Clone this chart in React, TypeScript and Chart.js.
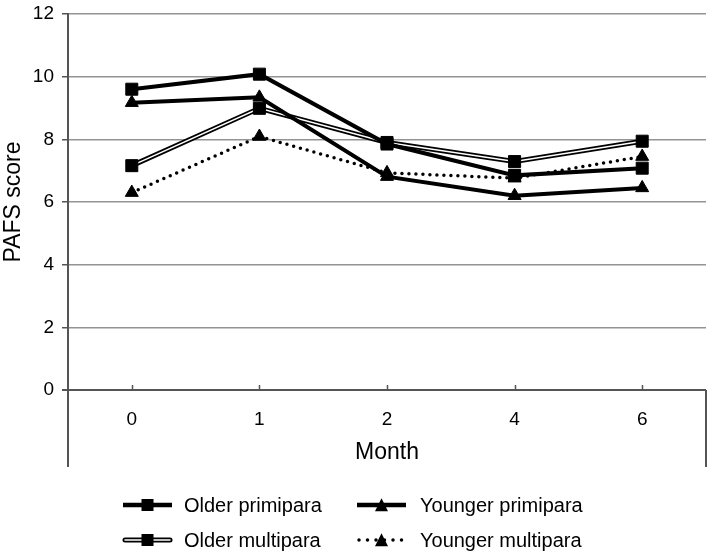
import React, { useEffect, useRef } from "react";
import { Chart, registerables } from "chart.js";

Chart.register(...registerables);

const months = ["0", "1", "2", "4", "6"];
const olderPrimipara = [9.6, 10.08, 7.85, 6.85, 7.08];
const olderMultipara = [7.16, 8.99, 7.9, 7.29, 7.94];
const youngerPrimipara = [9.17, 9.34, 6.81, 6.2, 6.45];
const youngerMultipara = [6.3, 8.09, 6.93, 6.76, 7.45];
const legendLabels = ["Older primipara", "Younger primipara", "Older multipara", "Younger multipara"];
const yTitle = "PAFS score";
const xTitle = "Month";

const FONT = "'Liberation Sans', Arial, sans-serif";
const AXIS = "#555555";
const GRID = "#939393";

function drawSquare(ctx: CanvasRenderingContext2D, x: number, y: number, s: number) {
  ctx.fillStyle = "#000";
  ctx.fillRect(x - s / 2, y - s / 2, s, s);
}
function drawTriangle(ctx: CanvasRenderingContext2D, x: number, y: number, s: number) {
  ctx.fillStyle = "#000";
  ctx.beginPath();
  ctx.moveTo(x, y - s * 0.6);
  ctx.lineTo(x + s / 2, y + s * 0.4);
  ctx.lineTo(x - s / 2, y + s * 0.4);
  ctx.closePath();
  ctx.fill();
}

const decorPlugin = {
  id: "decor",
  afterDraw(chart: any) {
    const ctx: CanvasRenderingContext2D = chart.ctx;
    const { left, right, top, bottom } = chart.chartArea;
    const xs = chart.scales.x;
    ctx.save();
    ctx.strokeStyle = AXIS;
    ctx.lineWidth = 2;
    ctx.beginPath();
    ctx.moveTo(left - 6, bottom);
    ctx.lineTo(right, bottom);
    ctx.stroke();
    ctx.beginPath();
    ctx.moveTo(left, top);
    ctx.lineTo(left, 467);
    ctx.moveTo(right, bottom);
    ctx.lineTo(right, 467);
    ctx.stroke();
    ctx.lineWidth = 1.5;
    ctx.beginPath();
    for (let i = 0; i < months.length; i++) {
      const px = Math.round(xs.getPixelForValue(i)) + 0.5;
      ctx.moveTo(px, bottom);
      ctx.lineTo(px, bottom - 5);
    }
    ctx.stroke();

    ctx.fillStyle = "#000";
    ctx.font = `23px ${FONT}`;
    ctx.textAlign = "center";
    ctx.textBaseline = "middle";
    ctx.fillText(xTitle, (left + right) / 2, 453);
    ctx.save();
    ctx.translate(14, (top + bottom) / 2);
    ctx.rotate(-Math.PI / 2);
    ctx.fillText(yTitle, 0, 0);
    ctx.restore();

    const rows = [505, 540];
    const cols = [{ x0: 123, x1: 172, tx: 184 }, { x0: 357, x1: 406, tx: 420 }];
    const items = [
      { row: 0, col: 0, kind: "thick", marker: "square" },
      { row: 0, col: 1, kind: "thick", marker: "triangle" },
      { row: 1, col: 0, kind: "double", marker: "square" },
      { row: 1, col: 1, kind: "dotted", marker: "triangle" },
    ];
    items.forEach((it, i) => {
      const y = rows[it.row];
      const c = cols[it.col];
      const mx = (c.x0 + c.x1) / 2;
      ctx.lineCap = "butt";
      ctx.setLineDash([]);
      if (it.kind === "thick") {
        ctx.strokeStyle = "#000";
        ctx.lineWidth = 4.5;
        ctx.beginPath();
        ctx.moveTo(c.x0, y);
        ctx.lineTo(c.x1, y);
        ctx.stroke();
      } else if (it.kind === "double") {
        ctx.strokeStyle = "#000";
        ctx.lineWidth = 5;
        ctx.lineCap = "round";
        ctx.beginPath();
        ctx.moveTo(c.x0 + 2, y);
        ctx.lineTo(c.x1 - 2, y);
        ctx.stroke();
        ctx.strokeStyle = "#fff";
        ctx.lineWidth = 1.5;
        ctx.beginPath();
        ctx.moveTo(c.x0 + 2, y);
        ctx.lineTo(c.x1 - 2, y);
        ctx.stroke();
      } else {
        ctx.strokeStyle = "#000";
        ctx.lineWidth = 3.5;
        ctx.lineCap = "round";
        ctx.setLineDash([0, 8.5]);
        ctx.beginPath();
        ctx.moveTo(c.x0 + 2, y);
        ctx.lineTo(c.x1, y);
        ctx.stroke();
        ctx.setLineDash([]);
      }
      if (it.marker === "square") drawSquare(ctx, mx, y, 12);
      else drawTriangle(ctx, mx, y + 1, 13);
      ctx.fillStyle = "#000";
      ctx.font = `20px ${FONT}`;
      ctx.textAlign = "left";
      ctx.textBaseline = "middle";
      ctx.fillText(legendLabels[i], c.tx, y + 1);
    });
    ctx.restore();
  },
};

export default function App() {
  const ref = useRef<HTMLCanvasElement | null>(null);
  useEffect(() => {
    document.body.style.margin = "0";
    const canvas = ref.current!;
    const chart = new Chart(canvas, {
      type: "line",
      data: {
        labels: months,
        datasets: [
          { label: "Older primipara", data: olderPrimipara, borderColor: "#000", backgroundColor: "#000", borderWidth: 4, pointStyle: "rect", pointRadius: 8.5, pointBorderWidth: 1, order: 1 },
          { label: "Younger primipara", data: youngerPrimipara, borderColor: "#000", backgroundColor: "#000", borderWidth: 4, pointStyle: "triangle", pointRadius: 7.5, pointBorderWidth: 1, order: 2 },
          { label: "Older multipara", data: olderMultipara, borderColor: "#000", backgroundColor: "#000", borderWidth: 1, showLine: false, pointStyle: "rect", pointRadius: 8.5, pointBorderWidth: 1, order: 3 },
          { label: "_omw", data: olderMultipara, borderColor: "#fff", borderWidth: 1.5, pointRadius: 0, order: 4 },
          { label: "_omb", data: olderMultipara, borderColor: "#000", borderWidth: 5, pointRadius: 0, order: 5 },
          { label: "Younger multipara", data: youngerMultipara, borderColor: "#000", backgroundColor: "#000", borderWidth: 3.5, borderDash: [0, 7], borderCapStyle: "round", pointStyle: "triangle", pointRadius: 7.5, pointBorderWidth: 1, order: 6 },
        ],
      },
      options: {
        responsive: false,
        animation: false,
        layout: { autoPadding: false, padding: { top: 14, right: 3, left: 0, bottom: 0 } },
        plugins: { legend: { display: false }, tooltip: { enabled: false } },
        elements: { line: { tension: 0 } },
        scales: {
          x: {
            type: "category",
            offset: true,
            grid: { display: false },
            border: { display: false },
            ticks: { color: "#000", font: { size: 19, family: FONT }, padding: 10, maxRotation: 0 },
            afterFit: (s: any) => {
              s.height = 164;
              s.paddingLeft = 0;
              s.paddingRight = 0;
            },
          },
          y: {
            min: 0,
            max: 12,
            ticks: { stepSize: 2, color: "#000", font: { size: 19, family: FONT }, padding: 8 },
            grid: { color: GRID, lineWidth: 1.5, tickLength: 6, tickColor: AXIS, tickWidth: 1.5 },
            border: { color: AXIS, width: 2 },
            afterFit: (s: any) => {
              s.width = 68;
              s.paddingTop = 0;
              s.paddingBottom = 0;
            },
          },
        },
      },
      plugins: [decorPlugin],
    } as any);
    return () => chart.destroy();
  }, []);
  return (
    <div style={{ width: 709, height: 554 }}>
      <canvas ref={ref} width={709} height={554} />
    </div>
  );
}
